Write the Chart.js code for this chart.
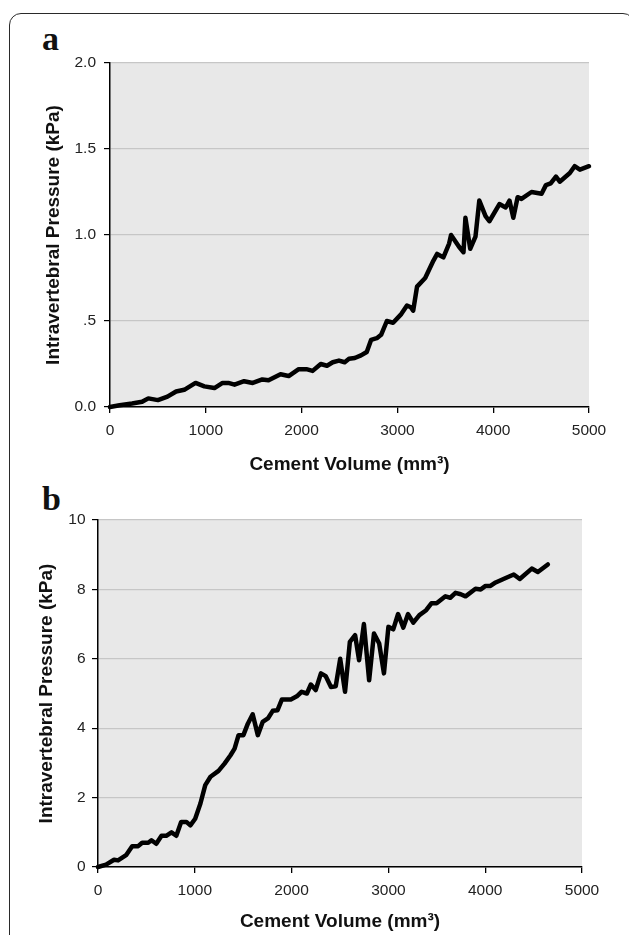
<!DOCTYPE html>
<html>
<head>
<meta charset="utf-8">
<script src="https://cdn.jsdelivr.net/npm/chart.js@4.4.1/dist/chart.umd.min.js"></script>
<style>
  html, body { margin: 0; padding: 0; background: #fff; width: 629px; height: 935px; overflow: hidden; }
  .frame {
    position: absolute; left: 9px; top: 13px; width: 624px; height: 1000px;
    border: 1.5px solid #2a2a2a; border-radius: 12px;
  }
  .panel {
    position: absolute; left: 42px;
    font-family: "Liberation Serif", serif; font-weight: bold; font-size: 34px; line-height: 1;
    color: #111;
  }
  canvas { position: absolute; left: 0; }
</style>
</head>
<body>
<div class="frame"></div>
<div class="panel" style="top:22px">a</div>
<div class="panel" style="top:482px">b</div>
<canvas id="chartA" width="629" height="480" style="top:0"></canvas>
<canvas id="chartB" width="629" height="457" style="top:478px"></canvas>
<script>
// Panel a data (volume in mm3, pressure in kPa)
const volA = [0, 100, 230, 335, 400, 500, 600, 690, 775, 893, 985, 1090, 1175, 1235, 1300, 1400,
  1490, 1590, 1655, 1780, 1865, 1970, 2050, 2115, 2200, 2265, 2325, 2390, 2450, 2495, 2555, 2620,
  2680, 2725, 2785, 2830, 2890, 2955, 3040, 3100, 3140, 3165, 3205, 3290, 3375, 3415, 3480, 3540,
  3560, 3645, 3690, 3710, 3760, 3815, 3855, 3920, 3960, 4065, 4130, 4170, 4210, 4255, 4295, 4400,
  4505, 4550, 4600, 4655, 4695, 4800, 4850, 4905, 5000];
const pressA = [0, 0.01, 0.02, 0.03, 0.05, 0.04, 0.06, 0.09, 0.10, 0.14, 0.12, 0.11, 0.14, 0.14, 0.13, 0.15,
  0.14, 0.16, 0.155, 0.19, 0.18, 0.22, 0.22, 0.21, 0.25, 0.24, 0.26, 0.27, 0.26, 0.28, 0.285, 0.30,
  0.32, 0.39, 0.40, 0.42, 0.50, 0.49, 0.54, 0.59, 0.58, 0.56, 0.70, 0.75, 0.85, 0.89, 0.87, 0.95,
  1.00, 0.93, 0.90, 1.10, 0.92, 0.99, 1.20, 1.11, 1.08, 1.18, 1.16, 1.20, 1.10, 1.22, 1.21, 1.25,
  1.24, 1.29, 1.30, 1.34, 1.31, 1.36, 1.40, 1.38, 1.40];

// Panel b data
const volB = [0, 83, 166, 207, 290, 353, 415, 456, 519, 552, 602, 656, 705, 759, 809, 859, 913, 954,
  1004, 1058, 1108, 1162, 1245, 1307, 1369, 1411, 1452, 1502, 1548, 1598, 1651, 1701, 1755, 1805,
  1855, 1900, 1992, 2054, 2104, 2158, 2199, 2249, 2303, 2353, 2407, 2456, 2502, 2552, 2602, 2656,
  2697, 2747, 2801, 2851, 2905, 2954, 3000, 3050, 3100, 3154, 3203, 3257, 3320, 3390, 3444, 3498,
  3589, 3639, 3693, 3747, 3797, 3900, 3954, 4004, 4054, 4108, 4212, 4295, 4357, 4481, 4544, 4647];
const pressB = [0, 0.07, 0.21, 0.19, 0.34, 0.6, 0.6, 0.7, 0.7, 0.77, 0.67, 0.9, 0.9, 1.0, 0.9, 1.3, 1.3, 1.2,
  1.39, 1.83, 2.36, 2.6, 2.77, 2.98, 3.22, 3.41, 3.8, 3.8, 4.13, 4.4, 3.8, 4.18, 4.28, 4.5,
  4.52, 4.83, 4.83, 4.92, 5.05, 5.0, 5.26, 5.1, 5.58, 5.5, 5.19, 5.21, 6.0, 5.05, 6.49, 6.68,
  5.96, 7.0, 5.38, 6.73, 6.44, 5.58, 6.92, 6.85, 7.29, 6.9, 7.29, 7.04, 7.26, 7.4, 7.6, 7.6,
  7.8, 7.76, 7.9, 7.86, 7.8, 8.02, 8.0, 8.1, 8.1, 8.2, 8.33, 8.43, 8.3, 8.6, 8.5, 8.72];

const xTicks = [0, 1000, 2000, 3000, 4000, 5000];
const yTicksA = [0, 0.5, 1.0, 1.5, 2.0];
const yTicksB = [0, 2, 4, 6, 8, 10];

const xTitle = "Cement Volume (mm³)";
const yTitle = "Intravertebral Pressure (kPa)";

// grey plot background
const plotBg = {
  id: "plotBg",
  beforeDraw(chart) {
    const { ctx, chartArea: a } = chart;
    ctx.save();
    ctx.fillStyle = "#e8e8e8";
    ctx.fillRect(a.left, a.top, a.right - a.left, a.bottom - a.top);
    ctx.restore();
  },
};

function drawPanel(id, xs, ys, yTicks, yLabel, box) {
  const ctx = document.getElementById(id);
  new Chart(ctx.getContext("2d"), {
    type: "line",
    data: {
      datasets: [
        {
          data: xs.map((x, i) => ({ x: x, y: ys[i] })),
          borderColor: "#000",
          borderWidth: 4.5,
          borderJoinStyle: "round",
          borderCapStyle: "round",
          pointRadius: 0,
          tension: 0,
          clip: 8,
        },
      ],
    },
    options: {
      responsive: false,
      animation: false,
      events: [],
      layout: { padding: box.padding },
      plugins: { legend: { display: false }, tooltip: { enabled: false } },
      scales: {
        x: {
          type: "linear",
          min: xTicks[0],
          max: xTicks[xTicks.length - 1],
          afterBuildTicks: (s) => { s.ticks = xTicks.map((v) => ({ value: v })); },
          afterFit: (s) => { s.height = box.xHeight; },
          ticks: {
            autoSkip: false, maxRotation: 0, padding: 8,
            color: "#222", font: { family: "Liberation Sans", size: 15.5 },
            callback: (v) => String(v),
          },
          grid: { drawOnChartArea: false, color: "#000", tickLength: 6, lineWidth: 1.3 },
          border: { color: "#000", width: 1.5 },
          title: {
            display: true, text: xTitle, color: "#111", padding: 0,
            font: { family: "Liberation Sans", size: 19, weight: "bold" },
          },
        },
        y: {
          type: "linear",
          min: yTicks[0],
          max: yTicks[yTicks.length - 1],
          afterBuildTicks: (s) => { s.ticks = yTicks.map((v) => ({ value: v })); },
          afterFit: (s) => { s.width = box.yWidth; },
          ticks: {
            padding: box.yPad,
            color: "#222", font: { family: "Liberation Sans", size: 15.5 },
            callback: yLabel,
          },
          grid: { color: "#c6c6c6", lineWidth: 1.2, tickColor: "#000", tickLength: 6 },
          border: { color: "#000", width: 1.5 },
          title: {
            display: true, text: yTitle, color: "#111", padding: 0,
            font: { family: "Liberation Sans", size: 19, weight: "bold" },
          },
        },
      },
    },
    plugins: [plotBg],
  });
}

drawPanel("chartA", volA, pressA, yTicksA,
  (v) => (v === 0.5 ? ".5" : Number(v).toFixed(1)),
  { padding: { left: 42.6, right: 40, top: 63, bottom: 4 }, xHeight: 69, yWidth: 67.4, yPad: 8 });

drawPanel("chartB", volB, pressB, yTicksB,
  (v) => String(v),
  { padding: { left: 35.6, right: 47, top: 42, bottom: 1.6 }, xHeight: 66.4, yWidth: 62.4, yPad: 6.5 });
</script>
</body>
</html>
